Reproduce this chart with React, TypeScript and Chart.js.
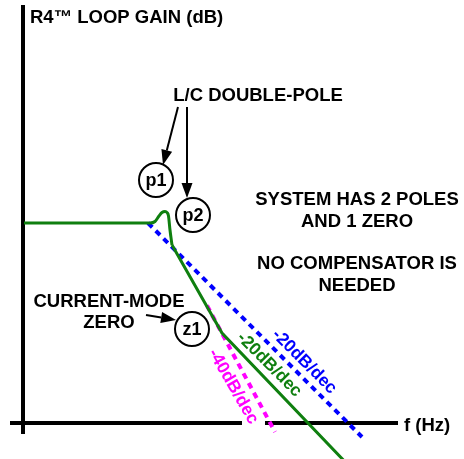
import React, { useEffect, useRef } from "react";
import { Chart, registerables } from "chart.js";

Chart.register(...registerables);

// x: frequency in decades (log10 f, axis origin = 0), y: loop gain in dB
const loopGainX = [0.01, 1.27, 1.32, 1.36, 1.39, 1.42, 1.44, 1.455, 1.47, 1.49];
const loopGainY = [40, 40, 40.3, 41.4, 42.1, 42.3, 42.1, 41.4, 38.6, 35.6];
const loopSlopeX = [1.49, 1.99, 3.27];
const loopSlopeY = [35.6, 18, -8.8];
const asym20X = [1.25, 3.39];
const asym20Y = [40, -2.8];
const asym40X = [1.84, 2.52];
const asym40Y = [23.5, -1.8];
const pzNames = ["p1", "p2", "z1"];
const pzX = [1.33, 1.7, 1.69];
const pzY = [48.6, 41.6, 18.8];

// axes
const hAxisX = [-0.13, 2.19, null, 2.42, 3.75];
const vAxisY = [-2.2, 83.6];

const titleText = "R4\u2122 LOOP GAIN (dB)";
const xAxisText = "f (Hz)";
const poleLabel = "L/C DOUBLE-POLE";
const noteLines = ["SYSTEM HAS 2 POLES", "AND 1 ZERO", "NO COMPENSATOR IS", "NEEDED"];
const zeroLines = ["CURRENT-MODE", "ZERO"];
const slopeLabels = ["-20dB/dec", "-20dB/dec", "-40dB/dec"];

const GREEN = "#0f7f0f";
const BLUE = "#0000ff";
const MAGENTA = "#ff00ff";
const FONT = "'Liberation Sans', Arial, Helvetica, sans-serif";

type TextItem = { text: string; x: number; y: number; align?: CanvasTextAlign; color?: string; rot?: number; size?: number };

const texts: TextItem[] = [
  { text: titleText, x: 0.07, y: 81.3, align: "left" },
  { text: poleLabel, x: 2.35, y: 65.6 },
  { text: noteLines[0], x: 3.34, y: 44.8 },
  { text: noteLines[1], x: 3.34, y: 40.5 },
  { text: noteLines[2], x: 3.34, y: 32 },
  { text: noteLines[3], x: 3.34, y: 27.6 },
  { text: zeroLines[0], x: 0.86, y: 24.4 },
  { text: zeroLines[1], x: 0.86, y: 20.2 },
  { text: xAxisText, x: 3.81, y: -0.4, align: "left" },
  { text: slopeLabels[0], x: 2.82, y: 12.4, color: BLUE, rot: 45, size: 17.5 },
  { text: slopeLabels[1], x: 2.47, y: 11.8, color: GREEN, rot: 45, size: 17.5 },
  { text: slopeLabels[2], x: 2.11, y: 7.4, color: MAGENTA, rot: 60, size: 17.5 },
];

const arrows = [
  { x1: 1.55, y1: 63.2, x2: 1.4, y2: 51.6 },
  { x1: 1.64, y1: 63.2, x2: 1.64, y2: 45.0 },
  { x1: 1.23, y1: 21.6, x2: 1.53, y2: 20.6 },
];

const zip = (xs: (number | null)[], ys: (number | null)[]) => xs.map((x, i) => ({ x: x as any, y: ys[i] as any }));

export default function App() {
  const ref = useRef<HTMLCanvasElement | null>(null);
  useEffect(() => {
    if (!ref.current) return;
    const overlay = {
      id: "overlay",
      afterDatasetsDraw(chart: any) {
        const ctx = chart.ctx as CanvasRenderingContext2D;
        const xs = chart.scales.x;
        const ys = chart.scales.y;
        ctx.save();
        // arrows
        ctx.strokeStyle = "#000";
        ctx.fillStyle = "#000";
        ctx.lineWidth = 2;
        for (const a of arrows) {
          const x1 = xs.getPixelForValue(a.x1), y1 = ys.getPixelForValue(a.y1);
          const x2 = xs.getPixelForValue(a.x2), y2 = ys.getPixelForValue(a.y2);
          const ang = Math.atan2(y2 - y1, x2 - x1);
          const L = 15, W = 5.5;
          const bx = x2 - L * Math.cos(ang), by = y2 - L * Math.sin(ang);
          ctx.beginPath();
          ctx.moveTo(x1, y1);
          ctx.lineTo(bx, by);
          ctx.stroke();
          ctx.beginPath();
          ctx.moveTo(x2, y2);
          ctx.lineTo(bx + W * Math.sin(ang), by - W * Math.cos(ang));
          ctx.lineTo(bx - W * Math.sin(ang), by + W * Math.cos(ang));
          ctx.closePath();
          ctx.fill();
        }
        // circle labels
        ctx.textAlign = "center";
        ctx.textBaseline = "middle";
        ctx.font = `bold 18px ${FONT}`;
        pzNames.forEach((n, i) => {
          ctx.fillText(n, xs.getPixelForValue(pzX[i]), ys.getPixelForValue(pzY[i]) + 1);
        });
        // texts
        for (const t of texts) {
          const px = xs.getPixelForValue(t.x), py = ys.getPixelForValue(t.y);
          ctx.save();
          ctx.translate(px, py);
          if (t.rot) ctx.rotate((t.rot * Math.PI) / 180);
          ctx.font = `bold ${t.size || 18.5}px ${FONT}`;
          ctx.fillStyle = t.color || "#000";
          ctx.textAlign = t.align || "center";
          ctx.textBaseline = "middle";
          ctx.fillText(t.text, 0, 1);
          ctx.restore();
        }
        ctx.restore();
      },
    };
    const chart = new Chart(ref.current, {
      type: "line",
      data: {
        datasets: [
          {
            label: "poles/zero",
            data: zip(pzX, pzY),
            showLine: false,
            pointRadius: 17,
            pointBackgroundColor: "#fff",
            pointBorderColor: "#000",
            pointBorderWidth: 2,
            order: 0,
          } as any,
          {
            label: "loop gain",
            data: zip(loopGainX, loopGainY),
            borderColor: GREEN,
            borderWidth: 3,
            pointRadius: 0,
            cubicInterpolationMode: "monotone",
            order: 1,
          },
          {
            label: "loop gain slope",
            data: zip(loopSlopeX, loopSlopeY),
            borderColor: GREEN,
            borderWidth: 3,
            pointRadius: 0,
            tension: 0,
            order: 1,
          },
          {
            label: "-40dB/dec",
            data: zip(asym40X, asym40Y),
            borderColor: MAGENTA,
            borderWidth: 4,
            borderDash: [6, 5],
            pointRadius: 0,
            order: 2,
          },
          {
            label: "-20dB/dec",
            data: zip(asym20X, asym20Y),
            borderColor: BLUE,
            borderWidth: 4,
            borderDash: [6, 5],
            pointRadius: 0,
            order: 2,
          },
          {
            label: "x axis",
            data: zip(hAxisX, hAxisX.map((v) => (v === null ? null : 0))),
            borderColor: "#000",
            borderWidth: 4,
            pointRadius: 0,
            spanGaps: false,
            order: 3,
          },
          {
            label: "y axis",
            data: zip([0, 0], vAxisY),
            borderColor: "#000",
            borderWidth: 4,
            pointRadius: 0,
            order: 3,
          },
        ],
      },
      options: {
        animation: false,
        responsive: false,
        layout: { padding: 0, autoPadding: false },
        plugins: { legend: { display: false }, tooltip: { enabled: false } },
        events: [],
        scales: {
          x: { type: "linear", display: false, min: -0.23, max: 4.41 },
          y: { type: "linear", display: false, min: -7.2, max: 84.6 },
        },
      },
      plugins: [overlay],
    });
    return () => chart.destroy();
  }, []);
  return (
    <div style={{ position: "absolute", left: 0, top: 0, width: 464, height: 459, background: "#fff" }}>
      <canvas ref={ref} width={464} height={459} />
    </div>
  );
}
